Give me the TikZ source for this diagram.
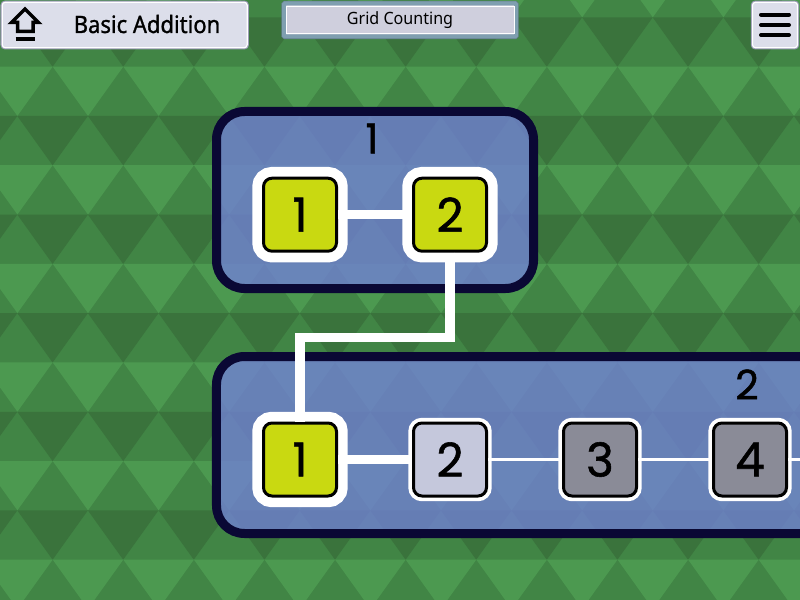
\documentclass[tikz,border=0pt]{standalone}
\usepackage{fontspec}
\setmainfont{Noto Sans}
\newfontfamily\digitfont[FakeBold=1.2]{Poppins}
\definecolor{bglight}{RGB}{76,153,80}
\definecolor{bgmid}{RGB}{65,133,69}
\definecolor{bgdark}{RGB}{58,115,60}
\definecolor{panelfill}{RGB}{114,128,215}
\definecolor{panelline}{RGB}{10,8,52}
\definecolor{lime}{RGB}{201,217,17}
\definecolor{pale}{RGB}{197,200,220}
\definecolor{slate}{RGB}{138,139,151}
\definecolor{btnfill}{RGB}{220,222,234}
\definecolor{btnline}{RGB}{155,156,181}
\definecolor{titlefill}{RGB}{207,207,221}
\definecolor{titleline}{RGB}{127,159,176}
\begin{document}
\begin{tikzpicture}[x=1bp,y=-1bp,node distance=150bp]
\tikzstyle{panel} = [rectangle, draw=panelline, line width=9bp, fill=panelfill, fill opacity=0.78, draw opacity=1, rounded corners=28bp, minimum height=177bp]
\tikzstyle{cell} = [rectangle, draw=black, line width=3bp, rounded corners=8.5bp, inner sep=0pt, minimum size=73bp, font=\digitfont\fontsize{47}{47}\selectfont]
\tikzstyle{active} = [cell, fill=lime, preaction={draw=white, line width=22.4bp}]
\tikzstyle{open} = [cell, fill=pale, preaction={draw=white, line width=10.4bp}]
\tikzstyle{locked} = [cell, fill=slate, preaction={draw=white, line width=10.4bp}]
\tikzstyle{thick wire} = [draw=white, line width=9.5bp]
\tikzstyle{thin wire} = [draw=white, line width=3.6bp]
\tikzstyle{tag} = [font=\digitfont\fontsize{41}{41}\selectfont, inner sep=0pt]
\tikzstyle{btn} = [rectangle, draw=white, line width=1.2bp, fill=btnfill, rounded corners=3bp, inner sep=0pt, preaction={draw=btnline, line width=3.4bp}]
\useasboundingbox (0,0) rectangle (800,600);
\clip (0,0) rectangle (800,600);
% background
\fill[bgmid] (0,0) rectangle (800,600);
\foreach \r in {0,...,6} {
  \foreach \c in {-1,...,11} {
    \fill[bglight] ({52.7+70.6*\c},{-32+98.6*\r}) -- ++(70.6,0) -- ++(-35.3,49.3) -- cycle;
    \fill[bgdark] ({17.3+70.6*\c},{17.4+98.6*\r}) -- ++(70.6,0) -- ++(-35.3,49.3) -- cycle;
  }
}
% panels
\node[panel, minimum width=317bp] (pn1) at (375,200) {};
\node[panel, minimum width=800bp] (pn2) at (616.5,445) {};
\node[tag] (t1) at (372,138.5) {1};
\node[tag] (t2) at (747,384.5) {2};
% first group
\node[active] (a1) at (300,214.7) {1};
\node[active, right of=a1] (a2) {2};
\draw[thick wire] (a1) -- (a2);
% second group
\node[active] (b1) at (300,459.5) {1};
\node[open, right of=b1] (b2) {2};
\node[locked, right of=b2] (b3) {3};
\node[locked, right of=b3] (b4) {4};
\coordinate[right of=b4] (b5);
\draw[thick wire] (b1) -- (b2);
\draw[thin wire] (b2) -- (b3);
\draw[thin wire] (b3) -- (b4);
\draw[thin wire] (b4) -- (b5);
% between groups
\coordinate (bend) at (375,337.5);
\draw[thick wire] (a2.south) |- (bend) -| (b1.north);
% top bar
\node[btn, minimum width=245bp, minimum height=45.5bp] (home) at (124.7,25) {};
\node[font=\fontsize{24}{24}\selectfont\addfontfeature{FakeBold=1.1,FakeStretch=0.92}, inner sep=0pt, anchor=base] (title) at (147,33) {Basic Addition};
\draw[line width=3.5bp, miter limit=10] (17.5,31.3) -- (17.5,22.5) -- (11.5,22.5) -- (25,9) -- (38.5,22.5) -- (33,22.5) -- (33,31.3) -- cycle;
\draw[line width=3.4bp] (15.7,39) -- (34.7,39);
\node[rectangle, draw=titleline, line width=4bp, fill=titlefill, rounded corners=1bp, inner sep=0pt, minimum width=232bp, minimum height=33bp, preaction={draw=titleline!80!black, line width=5.4bp}] (level) at (400,20) {};
\draw[white, line width=1bp] (level.center) ++(-114,-13.6) rectangle ++(228,27.2);
\node[font=\fontsize{17}{17}\selectfont\addfontfeature{FakeStretch=0.95}, inner sep=0pt, anchor=base] (name) at (400,25) {Grid Counting};
\node[btn, minimum width=45bp, minimum height=45.5bp] (menu) at (775,25) {};
\foreach \y in {14.7,25,35} {
  \draw[line width=4bp, line cap=round] (761,\y) -- (789,\y);
}
\end{tikzpicture}
\end{document}
